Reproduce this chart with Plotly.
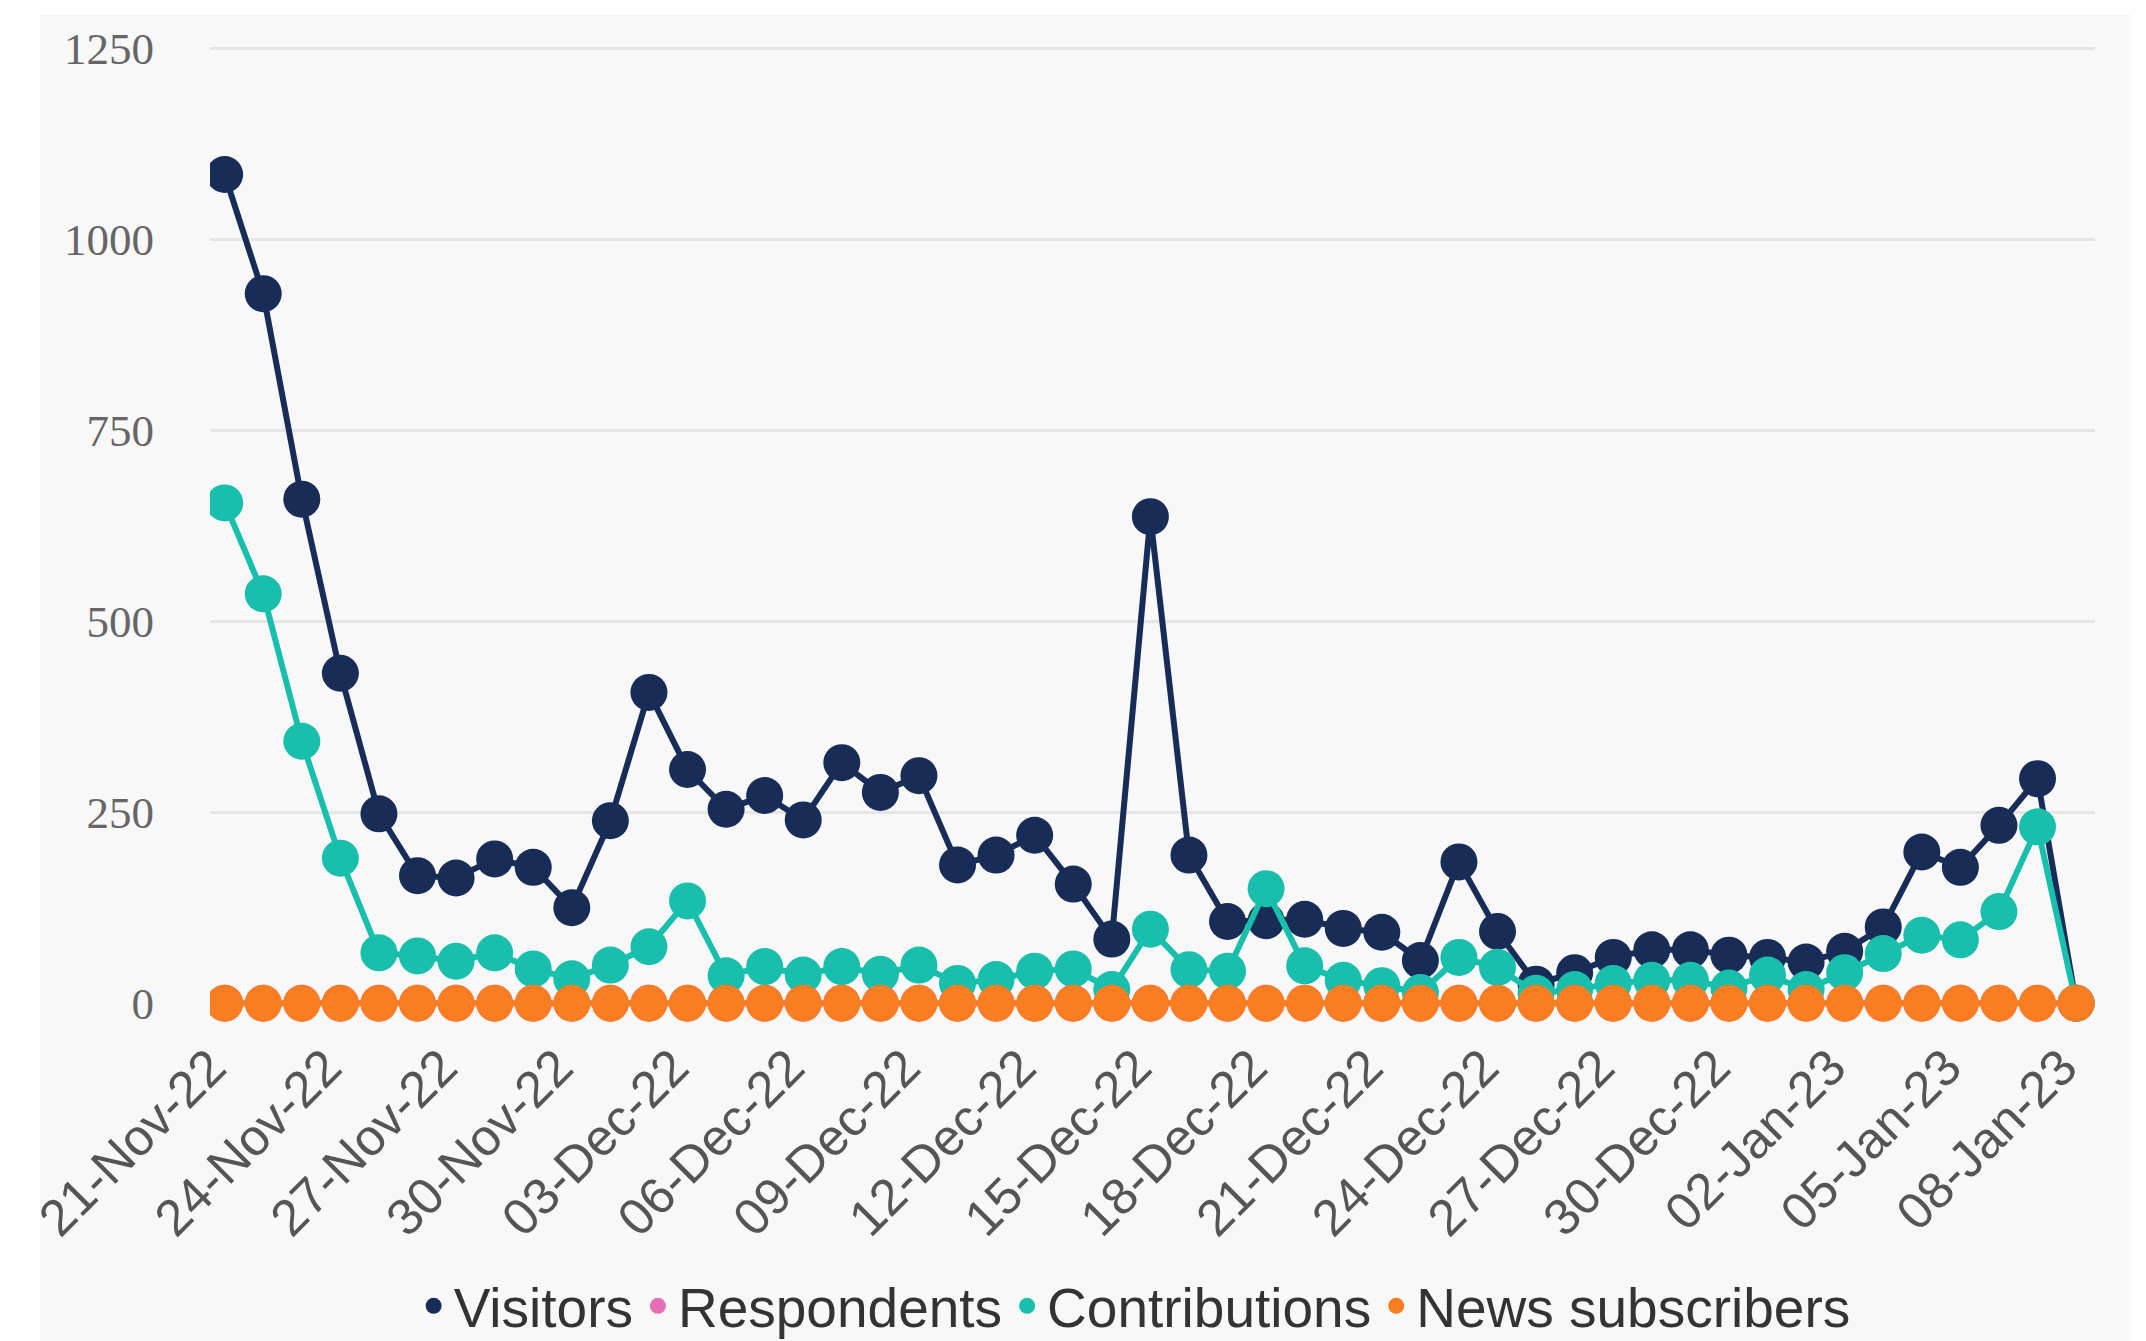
import plotly.graph_objects as go

dates = [
    "21-Nov-22", "22-Nov-22", "23-Nov-22", "24-Nov-22", "25-Nov-22", "26-Nov-22", "27-Nov-22",
    "28-Nov-22", "29-Nov-22", "30-Nov-22", "01-Dec-22", "02-Dec-22", "03-Dec-22", "04-Dec-22",
    "05-Dec-22", "06-Dec-22", "07-Dec-22", "08-Dec-22", "09-Dec-22", "10-Dec-22", "11-Dec-22",
    "12-Dec-22", "13-Dec-22", "14-Dec-22", "15-Dec-22", "16-Dec-22", "17-Dec-22", "18-Dec-22",
    "19-Dec-22", "20-Dec-22", "21-Dec-22", "22-Dec-22", "23-Dec-22", "24-Dec-22", "25-Dec-22",
    "26-Dec-22", "27-Dec-22", "28-Dec-22", "29-Dec-22", "30-Dec-22", "31-Dec-22", "01-Jan-23",
    "02-Jan-23", "03-Jan-23", "04-Jan-23", "05-Jan-23", "06-Jan-23", "07-Jan-23", "08-Jan-23",
]

visitors = [
    1085, 929, 660, 432, 248, 167, 164, 189, 178, 125, 239, 407, 306, 254,
    272, 240, 315, 276, 298, 181, 194, 220, 156, 84, 637, 194, 107, 108,
    110, 98, 93, 56, 185, 94, 25, 40, 60, 70, 70, 63, 60, 54,
    68, 100, 198, 178, 233, 294, 0,
]

respondents = [0] * 49

contributions = [
    655, 536, 343, 190, 66, 62, 55, 66, 45, 32, 50, 74, 134, 36,
    48, 37, 48, 38, 50, 26, 31, 42, 45, 18, 97, 44, 42, 150,
    49, 30, 23, 14, 60, 47, 13, 18, 26, 30, 30, 20, 37, 18,
    40, 65, 89, 83, 120, 231, 0,
]

news_subscribers = [0] * 49

tick_labels = dates[::3]
y_ticks = [0, 250, 500, 750, 1000, 1250]

series = [
    ("Visitors", visitors, "#172c57"),
    ("Respondents", respondents, "#e56fb5"),
    ("Contributions", contributions, "#17bfac"),
    ("News subscribers", news_subscribers, "#fb7d22"),
]

fig = go.Figure()
for name, vals, color in series:
    fig.add_trace(go.Scatter(
        x=dates, y=vals, name=name, mode="lines+markers",
        line=dict(color=color, width=6),
        marker=dict(color=color, size=37, line=dict(width=0)),
        legendgroup=name, showlegend=False,
    ))
for name, vals, color in series:
    fig.add_trace(go.Scatter(
        x=[None], y=[None], name=name, mode="markers",
        marker=dict(color=color, size=16),
        legendgroup=name, showlegend=True,
    ))

W, H = 2146, 1341
ml, mr, mt, mb = 202, 59, 29, 319
pw, ph = W - ml - mr, H - mt - mb

fig.update_layout(
    width=W, height=H,
    margin=dict(l=ml, r=mr, t=mt, b=mb, autoexpand=False),
    paper_bgcolor="#ffffff",
    plot_bgcolor="rgba(0,0,0,0)",
    showlegend=True,
    legend=dict(
        orientation="h", xref="container", yref="container",
        x=0.525, xanchor="center", y=0.032, yanchor="middle",
        font=dict(family="Liberation Sans", size=55, color="#333333"),
        bgcolor="rgba(0,0,0,0)", itemwidth=30, traceorder="normal",
    ),
    shapes=[dict(
        type="rect", xref="paper", yref="paper", layer="below",
        x0=(32 - ml) / pw, x1=(2122 - ml) / pw,
        y0=(H - mb - 1341) / ph, y1=(H - mb - 6) / ph,
        fillcolor="#f8f8f8", line=dict(width=0),
    )],
    xaxis=dict(
        type="category", range=[-0.38, 48.49],
        tickmode="array", tickvals=tick_labels, ticktext=tick_labels,
        tickangle=-45, showgrid=False, zeroline=False, showline=False,
        tickfont=dict(family="Liberation Sans", size=51, color="#555555"),
        ticks="", ticklabelstandoff=-4, ticklabelshift=-14,
    ),
    yaxis=dict(
        range=[-35, 1265], tickmode="array", tickvals=y_ticks,
        showgrid=True, gridcolor="#e6e6e6", gridwidth=3,
        zeroline=False, showline=False,
        tickfont=dict(family="Liberation Serif", size=45, color="#666666"),
        ticks="", ticklabelstandoff=55,
    ),
)

fig.write_html("out.html")
